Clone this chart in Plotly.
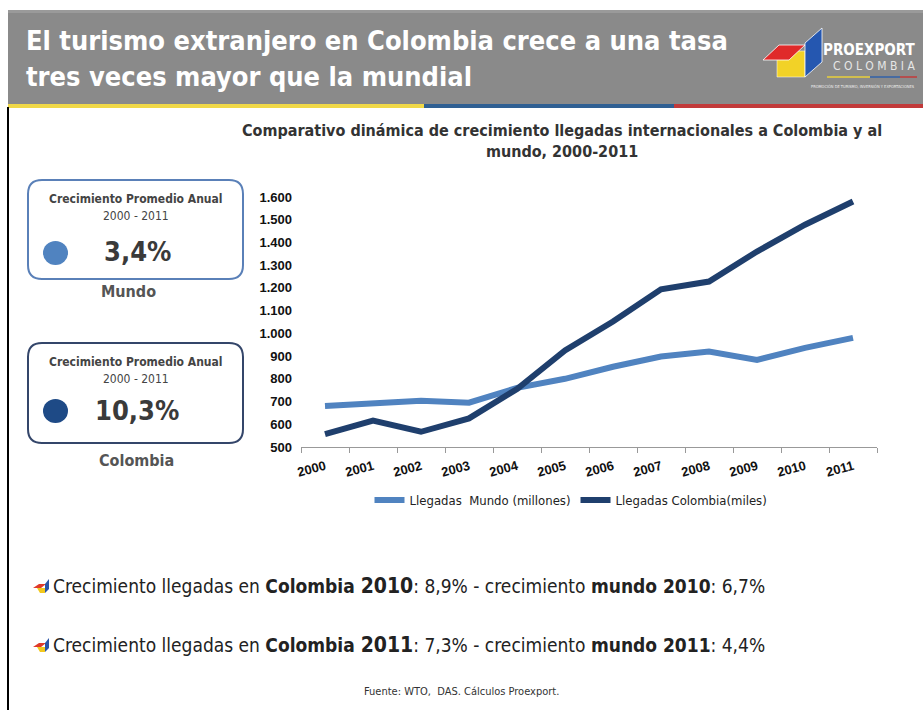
import plotly.graph_objects as go

# ---- data -------------------------------------------------------------
years = ["2000", "2001", "2002", "2003", "2004", "2005",
         "2006", "2007", "2008", "2009", "2010", "2011"]
llegadas_mundo = [680, 690, 704, 695, 760, 800, 853, 898, 920, 883, 936, 980]        # millones
llegadas_colombia = [557, 616, 567, 626, 755, 925, 1052, 1194, 1228, 1360, 1478, 1580]  # miles
y_ticks = [500, 600, 700, 800, 900, 1000, 1100, 1200, 1300, 1400, 1500, 1600]
y_tick_labels = ["500", "600", "700", "800", "900", "1.000", "1.100",
                 "1.200", "1.300", "1.400", "1.500", "1.600"]
serie_nombres = ["Llegadas  Mundo (millones)", "Llegadas Colombia(miles)"]
promedio_mundo = "3,4%"
promedio_colombia = "10,3%"

W, H = 923, 710
COND = "DejaVu Sans Condensed, DejaVu Sans, sans-serif"
ARIAL = "Liberation Sans, Arial, sans-serif"

C_MUNDO = "#5083c0"
C_COL = "#1f3f6d"


def px(x):
    return x / W


def py(y):
    return 1 - y / H


def rounded_rect(x0, y0, x1, y1, r):
    X0, X1 = px(x0), px(x1)
    Y0, Y1 = py(y0), py(y1)
    rx, ry = r / W, r / H
    return (f"M {X0 + rx},{Y0} L {X1 - rx},{Y0} Q {X1},{Y0} {X1},{Y0 - ry} "
            f"L {X1},{Y1 + ry} Q {X1},{Y1} {X1 - rx},{Y1} "
            f"L {X0 + rx},{Y1} Q {X0},{Y1} {X0},{Y1 + ry} "
            f"L {X0},{Y0 - ry} Q {X0},{Y0} {X0 + rx},{Y0} Z")


def poly(points):
    return "M " + " L ".join(f"{px(x)},{py(y)}" for x, y in points) + " Z"


def label(text, x, y, size, color, family=COND, xanchor="center", align="center"):
    return dict(text=text, x=px(x), y=py(y), xref="paper", yref="paper",
                xanchor=xanchor, yanchor="middle", align=align, showarrow=False,
                font=dict(family=family, size=size, color=color))


fig = go.Figure()
fig.add_trace(go.Scatter(x=years, y=llegadas_mundo, mode="lines", name=serie_nombres[0],
                         line=dict(color=C_MUNDO, width=6)))
fig.add_trace(go.Scatter(x=years, y=llegadas_colombia, mode="lines", name=serie_nombres[1],
                         line=dict(color=C_COL, width=6)))

shapes = []
annotations = []

# header band with tricolour stripe
shapes.append(dict(type="rect", xref="paper", yref="paper", x0=px(8), x1=px(923),
                   y0=py(104), y1=py(10), fillcolor="#8a8a8a", line=dict(width=0), layer="below"))
shapes.append(dict(type="rect", xref="paper", yref="paper", x0=px(8), x1=px(923),
                   y0=py(13), y1=py(10), fillcolor="#9a9a9a", line=dict(width=0), layer="below"))
for xa, xb, col in [(8, 424, "#f0d848"), (424, 674, "#2f5f92"), (674, 923, "#c23a3a")]:
    shapes.append(dict(type="rect", xref="paper", yref="paper", x0=px(xa), x1=px(xb),
                       y0=py(108), y1=py(104), fillcolor=col, line=dict(width=0), layer="below"))

# left border
shapes.append(dict(type="line", xref="paper", yref="paper", x0=px(8), x1=px(8),
                   y0=py(107), y1=py(710), line=dict(color="#000000", width=2)))

# logo
shapes.append(dict(type="path", xref="paper", yref="paper",
                   path=poly([(777, 51), (805, 51), (805, 77), (777, 77)]),
                   fillcolor="#f2d227", line=dict(color="#ffffff", width=0.5)))
shapes.append(dict(type="path", xref="paper", yref="paper",
                   path=poly([(763, 60), (779, 45), (805, 45), (789, 60)]),
                   fillcolor="#e02a2a", line=dict(color="#ffffff", width=0.8)))
shapes.append(dict(type="path", xref="paper", yref="paper",
                   path=poly([(805, 43), (822, 28), (822, 62), (805, 77)]),
                   fillcolor="#2557b0", line=dict(color="#ffffff", width=0.8)))
for xa, xb, col in [(827, 870, "#e8cf3a"), (870, 900, "#3060a8"), (900, 917, "#c23a3a")]:
    shapes.append(dict(type="line", xref="paper", yref="paper", x0=px(xa), x1=px(xb),
                       y0=py(77), y1=py(77), line=dict(color=col, width=1.5)))
annotations.append(label("<b>PROEXPORT</b>", 917, 50, 15, "#ffffff", xanchor="right"))
annotations.append(label("C O L O M B I A", 917, 66, 12, "#e6e6e6", xanchor="right"))
annotations.append(label("PROMOCIÓN DE TURISMO, INVERSIÓN Y EXPORTACIONES", 917, 86, 4,
                         "#eeeeee", xanchor="right"))

# header title, two lines
annotations.append(label("<b>El turismo extranjero en Colombia crece a una tasa</b>",
                         24, 40, 27, "#ffffff", xanchor="left", align="left"))
annotations.append(label("<b>tres veces mayor que la mundial</b>",
                         24, 77, 27, "#ffffff", xanchor="left", align="left"))

# chart title
annotations.append(label("<b>Comparativo dinámica de crecimiento llegadas internacionales a Colombia y al<br>mundo, 2000-2011</b>",
                         562, 141, 16, "#333333"))

# summary boxes
boxes = [
    (180, 279, "#5a80b8", C_MUNDO, 253, promedio_mundo, "Mundo", 291, 128),
    (343, 443, "#34466a", "#1e4a86", 411, promedio_colombia, "Colombia", 460, 136),
]
for y0, y1, border, dot, dot_y, valor, etiqueta, lab_y, lab_x in boxes:
    shapes.append(dict(type="path", xref="paper", yref="paper",
                       path=rounded_rect(28, y0, 243, y1, 14),
                       line=dict(color=border, width=2), fillcolor="rgba(0,0,0,0)"))
    shapes.append(dict(type="circle", xref="paper", yref="paper",
                       x0=px(43), x1=px(68), y0=py(dot_y + 12), y1=py(dot_y - 12),
                       fillcolor=dot, line=dict(width=0)))
    annotations.append(label("<b>Crecimiento Promedio Anual</b>", 136, y0 + 19, 12, "#444444"))
    annotations.append(label("2000 - 2011", 136, y0 + 36, 12, "#444444"))
    annotations.append(label("<b>" + valor + "</b>", 137, dot_y - 1, 27, "#3a3a3a"))
    annotations.append(label("<b>" + etiqueta + "</b>", lab_x, lab_y, 16, "#555555"))

# bullet lines
bullets = [
    (586, "Crecimiento llegadas en <b>Colombia <span style='font-size:21px'>2010</span></b>: 8,9% - crecimiento <b>mundo 2010</b>: 6,7%"),
    (645, "Crecimiento llegadas en <b>Colombia <span style='font-size:21px'>2011</span></b>: 7,3% - crecimiento <b>mundo 2011</b>: 4,4%"),
]
for by, txt in bullets:
    shapes.append(dict(type="path", xref="paper", yref="paper",
                       path=poly([(37, by + 2), (45, by + 2), (45, by + 7), (40, by + 7)]),
                       fillcolor="#f2c81e", line=dict(width=0)))
    shapes.append(dict(type="path", xref="paper", yref="paper",
                       path=poly([(33, by + 2), (39, by - 2), (46, by - 2), (41, by + 2)]),
                       fillcolor="#e03a2a", line=dict(width=0)))
    shapes.append(dict(type="path", xref="paper", yref="paper",
                       path=poly([(45, by - 2), (49, by - 7), (49, by + 3), (45, by + 7)]),
                       fillcolor="#2a55a8", line=dict(width=0)))
    annotations.append(label(txt, 51, by, 19, "#222222", xanchor="left", align="left"))

annotations.append(label("Fuente: WTO,  DAS. Cálculos Proexport.", 462, 691, 11, "#333333"))

fig.update_layout(
    width=W, height=H,
    margin=dict(l=0, r=0, t=0, b=0, pad=0, autoexpand=False),
    paper_bgcolor="#ffffff", plot_bgcolor="#ffffff",
    showlegend=True,
    legend=dict(orientation="h", x=px(571), y=py(500), xanchor="center", yanchor="middle",
                font=dict(family=COND, size=13, color="#222222"), itemwidth=30,
                bgcolor="rgba(0,0,0,0)"),
    xaxis=dict(domain=[px(301), px(877)], type="category", range=[-0.5, 11.5],
               tickson="boundaries", automargin=False, showline=True, linecolor="#999999",
               linewidth=1, ticks="outside", tickcolor="#999999", ticklen=5, tickangle=-15,
               ticklabelstandoff=6, showgrid=False, zeroline=False,
               tickfont=dict(family=ARIAL, size=13, color="#111111", weight="bold")),
    yaxis=dict(domain=[py(447), py(197)], range=[500, 1600], tickvals=y_ticks,
               ticktext=y_tick_labels, automargin=False, showgrid=False, zeroline=False,
               showline=False, ticks="", ticklabelstandoff=8,
               tickfont=dict(family=ARIAL, size=13, color="#111111", weight="bold")),
    shapes=shapes,
    annotations=annotations,
)

fig.write_html("out.html")
